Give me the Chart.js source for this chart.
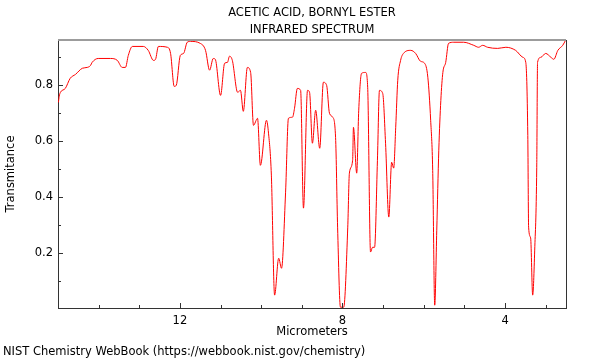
<!DOCTYPE html>
<html>
<head>
<meta charset="utf-8">
<script src="https://cdn.jsdelivr.net/npm/chart.js@4.4.0/dist/chart.umd.min.js"></script>
<style>
  html, body { margin: 0; padding: 0; background: #fff; }
</style>
</head>
<body>
<canvas id="espectro" width="600" height="360"></canvas>
<script>
// wavelength (micrometers) and transmittance
var micrometros = [14.99, 14.97, 14.94, 14.82, 14.70, 14.57, 14.40, 14.28, 14.20, 14.16,
  14.01, 13.71, 13.54, 13.42, 13.34, 13.27, 13.17, 12.90, 12.78, 12.65,
  12.60, 12.53, 12.31, 12.23, 12.14, 12.09, 11.99, 11.91, 11.82, 11.74,
  11.50, 11.37, 11.27, 11.18, 11.13, 11.00, 10.90, 10.83, 10.78, 10.71,
  10.58, 10.51, 10.44, 10.34, 10.26, 10.19, 10.09, 10.02, 9.87, 9.82,
  9.75, 9.67, 9.57, 9.50, 9.40, 9.33, 9.23, 9.18, 9.11, 9.03,
  8.96, 8.86, 8.81, 8.74, 8.66, 8.56, 8.47, 8.39, 8.32, 8.24,
  8.17, 8.12, 8.05, 7.97, 7.87, 7.83, 7.75, 7.73, 7.65, 7.60,
  7.53, 7.43, 7.38, 7.31, 7.26, 7.21, 7.14, 7.09, 7.01, 6.94,
  6.86, 6.79, 6.74, 6.69, 6.64, 6.57, 6.50, 6.32, 6.20, 6.08,
  5.98, 5.90, 5.83, 5.78, 5.73, 5.68, 5.63, 5.58, 5.53, 5.46,
  5.39, 5.26, 5.02, 4.77, 4.65, 4.55, 4.43, 4.18, 3.98, 3.74,
  3.56, 3.49, 3.44, 3.42, 3.37, 3.32, 3.27, 3.22, 3.20, 3.12,
  3.00, 2.87, 2.80, 2.70, 2.58, 2.51]
var transmitancia = [0.739, 0.761, 0.775, 0.789, 0.825, 0.839, 0.861, 0.864, 0.871, 0.882,
  0.896, 0.896, 0.889, 0.864, 0.864, 0.907, 0.939, 0.939, 0.925, 0.889,
  0.893, 0.939, 0.936, 0.914, 0.796, 0.800, 0.907, 0.914, 0.954, 0.957,
  0.950, 0.925, 0.854, 0.896, 0.893, 0.764, 0.879, 0.882, 0.904, 0.889,
  0.775, 0.782, 0.707, 0.864, 0.846, 0.657, 0.682, 0.514, 0.675, 0.629,
  0.479, 0.050, 0.182, 0.146, 0.418, 0.682, 0.686, 0.718, 0.789, 0.782,
  0.361, 0.782, 0.775, 0.593, 0.711, 0.575, 0.811, 0.800, 0.700, 0.686,
  0.614, 0.293, 0.007, 0.007, 0.293, 0.486, 0.532, 0.650, 0.486, 0.711,
  0.843, 0.846, 0.793, 0.204, 0.221, 0.221, 0.532, 0.782, 0.771, 0.593,
  0.329, 0.525, 0.504, 0.650, 0.818, 0.889, 0.914, 0.925, 0.914, 0.886,
  0.879, 0.829, 0.675, 0.496, 0.014, 0.282, 0.568, 0.746, 0.846, 0.882,
  0.950, 0.954, 0.954, 0.943, 0.936, 0.943, 0.936, 0.932, 0.936, 0.925,
  0.900, 0.882, 0.621, 0.293, 0.254, 0.050, 0.211, 0.507, 0.882, 0.900,
  0.914, 0.900, 0.893, 0.925, 0.943, 0.961]

var ticks_x = [12, 8, 4]
var ticks_y = [0.2, 0.4, 0.6, 0.8]
var menores_x = [3, 4, 5, 6, 7, 8, 9, 10, 11, 12, 13, 14]
var menores_y = [0.1, 0.2, 0.3, 0.4, 0.5, 0.6, 0.7, 0.8, 0.9]

var titulo = ['ACETIC ACID, BORNYL ESTER', 'INFRARED SPECTRUM']
var titulo_x = 'Micrometers'
var titulo_y = 'Transmitance'
var pie = 'NIST Chemistry WebBook (https://webbook.nist.gov/chemistry)'

var fuente = '"DejaVu Sans", sans-serif'
var tam = 11.5

// frame, inward tick marks and the texts around the plot
var extras = {
  id: 'extras',
  afterDraw: function(chart) {
    var c = chart.ctx
    var a = chart.chartArea
    var sx = chart.scales.x
    var sy = chart.scales.y
    c.save()

    c.strokeStyle = '#9c9c9c'
    c.lineWidth = 2
    c.beginPath()
    c.moveTo(a.left, a.top)
    c.lineTo(a.right, a.top)
    c.stroke()

    c.strokeStyle = '#333'
    c.lineWidth = 1
    c.beginPath()
    c.moveTo(a.right + 0.5, a.top)
    c.lineTo(a.right + 0.5, a.bottom)
    for (var i in menores_x) {
      var v = menores_x[i]
      var px = Math.round(sx.getPixelForValue(v)) + 0.5
      var largo = ticks_x.indexOf(v) >= 0 ? 5 : 3
      c.moveTo(px, a.bottom)
      c.lineTo(px, a.bottom - largo)
    }
    for (var j in menores_y) {
      var w = menores_y[j]
      var py = Math.round(sy.getPixelForValue(w)) + 0.5
      var largo_y = ticks_y.indexOf(w) >= 0 ? 5 : 3
      c.moveTo(a.left, py)
      c.lineTo(a.left + largo_y, py)
    }
    c.stroke()

    var centro = (a.left + a.right) / 2
    c.fillStyle = '#000'
    c.font = tam + 'px ' + fuente
    c.textAlign = 'center'
    c.textBaseline = 'middle'
    c.fillText(titulo[0], centro, 13)
    c.fillText(titulo[1], centro, 30)
    c.fillText(titulo_x, centro, 332)

    c.textAlign = 'left'
    c.fillText(pie, 3, 352)

    c.translate(11, (a.top + a.bottom) / 2)
    c.rotate(-Math.PI / 2)
    c.textAlign = 'center'
    c.fillText(titulo_y, 0, 0)
    c.restore()
  }
}

var puntos = []
for (var k = 0; k < micrometros.length; k++) {
  puntos.push({x: micrometros[k], y: transmitancia[k]})
}

new Chart(document.getElementById('espectro'), {
  type: 'line',
  data: {
    datasets: [{
      data: puntos,
      borderColor: 'rgb(255, 0, 0)',
      borderWidth: 1,
      pointRadius: 0,
      fill: false,
      cubicInterpolationMode: 'monotone'
    }]
  },
  options: {
    responsive: false,
    devicePixelRatio: 1,
    animation: false,
    layout: { padding: { left: 18, right: 34, top: 40, bottom: 28 } },
    plugins: {
      legend: { display: false },
      tooltip: { enabled: false },
      title: { display: false }
    },
    scales: {
      x: {
        type: 'linear',
        reverse: true,
        min: 2.5,
        max: 15,
        afterBuildTicks: function(scale) {
          scale.ticks = ticks_x.map(function(v) { return {value: v} })
        },
        afterFit: function(scale) { scale.height = 24 },
        ticks: { color: '#000', font: { family: fuente, size: tam }, padding: 6, maxRotation: 0 },
        grid: { drawOnChartArea: false, drawTicks: false },
        border: { color: '#333', width: 1 }
      },
      y: {
        min: 0.004,
        max: 0.962,
        afterBuildTicks: function(scale) {
          scale.ticks = ticks_y.map(function(v) { return {value: v} })
        },
        afterFit: function(scale) { scale.width = 40 },
        ticks: { color: '#000', font: { family: fuente, size: tam }, padding: 5,
          callback: function(v) { return v.toFixed(1) } },
        grid: { drawOnChartArea: false, drawTicks: false },
        border: { color: '#333', width: 1 }
      }
    }
  },
  plugins: [extras]
})
</script>
</body>
</html>
